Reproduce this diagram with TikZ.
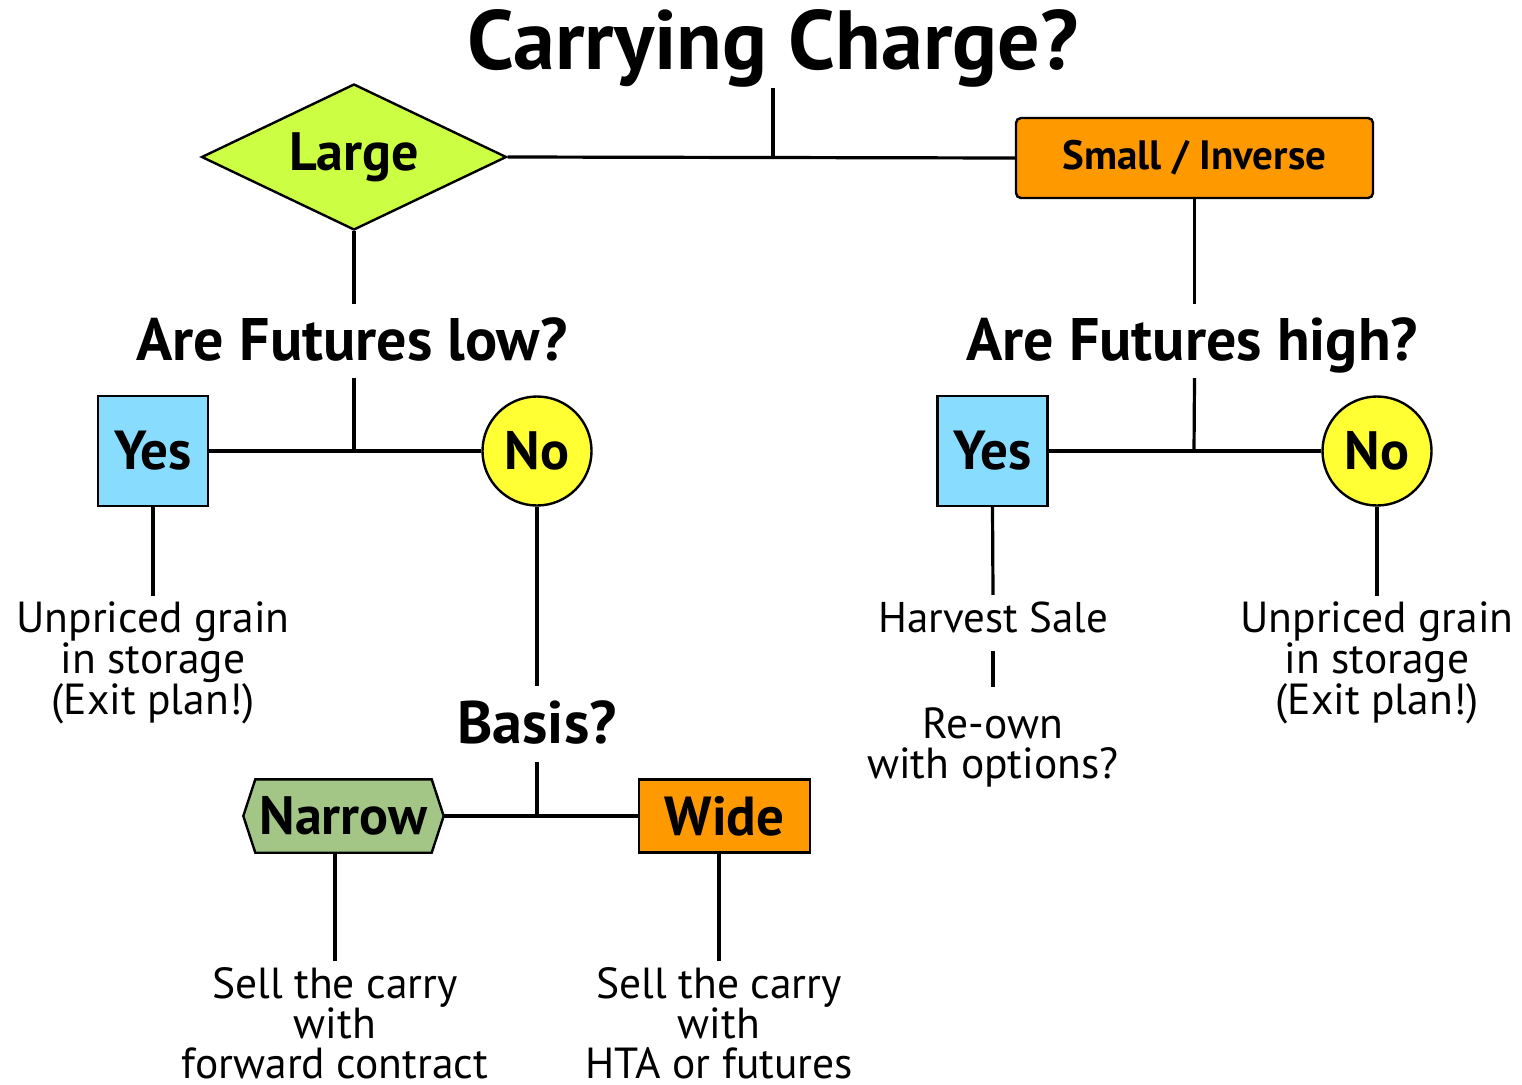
\documentclass[tikz,border=0pt]{standalone}
\usepackage{fontspec}
\setmainfont{PT Sans}
\usetikzlibrary{shapes.geometric,backgrounds}
\definecolor{largecol}{HTML}{CCFF44}
\definecolor{orangecol}{HTML}{FF9900}
\definecolor{yescol}{HTML}{88DDFF}
\definecolor{nocol}{HTML}{FFFF33}
\definecolor{narrowcol}{HTML}{A3C585}
\tikzset{
  conn/.style={line width=3.2pt, black},
  shapeline/.style={draw=black, line width=2.4pt},
  qtext/.style={font=\bfseries\fontsize{60}{64}\selectfont, inner sep=0pt, anchor=base},
  body/.style={font=\fontsize{43.5}{40}\selectfont, align=center, anchor=north, inner xsep=2pt, inner ysep=0pt},
  yesbox/.style={shapeline, rectangle, fill=yescol, minimum size=110pt, inner sep=0pt, font=\bfseries\fontsize{55}{55}\selectfont},
  nocirc/.style={shapeline, circle, fill=nocol, minimum size=109pt, inner sep=0pt, font=\bfseries\fontsize{54}{54}\selectfont},
}
\begin{document}
\begin{tikzpicture}[x=1pt,y=-1pt]
\useasboundingbox (0,0) rectangle (1522,1084);
% title
\node[font=\bfseries\fontsize{84}{88}\selectfont, inner sep=0pt, anchor=base, text height=62pt, text depth=19pt] (title) at (773,69) {Carrying Charge?};
% first level
\node[diamond, aspect=2.09, shapeline, fill=largecol, minimum width=305pt, minimum height=146pt, inner sep=0pt, font=\bfseries\fontsize{54}{54}\selectfont] (large) at (354,157) {Large};
\node[shapeline, rectangle, rounded corners=5pt, fill=orangecol, minimum width=357pt, minimum height=80pt, inner sep=0pt, font=\bfseries\fontsize{41}{44}\selectfont] (small) at (1194.5,158) {Small / Inverse};
\coordinate (jtop) at (773,157);
\draw[conn] (title.south) -- (jtop);
\draw[conn] (large.east) -- (small.west);
% questions
\node[qtext, text height=56pt, text depth=18pt] (afl) at (352,360) {Are Futures low?};
\node[qtext, text height=56pt, text depth=18pt] (afh) at (1192,360) {Are Futures high?};
\draw[conn] (large.south) -- (large.south |- afl.north);
\draw[conn] (small.south) -- (small.south |- afh.north);
% left yes/no
\node[yesbox] (yesL) at (153,451) {Yes};
\node[nocirc] (noL) at (537,451) {No};
\coordinate (j1) at (354,451);
\draw[conn] (large.south |- afl.south) -- (j1);
\draw[conn] (yesL.east) -- (noL.west);
% right yes/no
\node[yesbox] (yesR) at (992.5,451) {Yes};
\node[nocirc] (noR) at (1377,451) {No};
\coordinate (j3) at (1194,451);
\draw[conn] (small.south |- afh.south) -- (j3);
\draw[conn] (yesR.east) -- (noR.west);
% left outcomes
\node[body] (unpL) at (153,601) {Unpriced grain\\in storage\\(Exit plan!)};
\draw[conn] (yesL.south) -- ([yshift=5pt]unpL.north);
\node[qtext, text height=57pt, text depth=19pt] (basis) at (537,743) {Basis?};
\draw[conn] (noL.south) -- (basis.north);
\coordinate (j2) at (537,816);
\draw[conn] (basis.south) -- (j2);
\node[inner sep=0pt, minimum width=200pt, minimum height=73pt, font=\bfseries\fontsize{54}{56}\selectfont] (narrow) at (343.5,816) {Narrow};
\begin{scope}[on background layer]
\draw[shapeline, fill=narrowcol, line join=miter] (narrow.west) -- ([xshift=12pt]narrow.north west) -- ([xshift=-12pt]narrow.north east) -- (narrow.east) -- ([xshift=-12pt]narrow.south east) -- ([xshift=12pt]narrow.south west) -- cycle;
\end{scope}
\node[shapeline, rectangle, fill=orangecol, minimum width=171pt, minimum height=73pt, inner sep=0pt, font=\bfseries\fontsize{55}{56}\selectfont] (wide) at (724.5,816) {Wide};
\draw[conn] (narrow.east) -- (wide.west);
\node[body, font=\fontsize{43.5}{39.5}\selectfont] (sellL) at (335,967) {Sell the carry\\with\\forward contract};
\node[body, font=\fontsize{43.5}{39.5}\selectfont] (sellR) at (719,967) {Sell the carry\\with\\HTA or futures};
\draw[conn] (sellL.north |- narrow.south) -- ([yshift=6pt]sellL.north);
\draw[conn] (sellR.north |- wide.south) -- ([yshift=6pt]sellR.north);
% right outcomes
\node[font=\fontsize{43}{40}\selectfont, inner sep=0pt, anchor=base, text height=37pt, text depth=19pt] (harv) at (993,632) {Harvest Sale};
\draw[conn] (yesR.south) -- (harv.north);
\node[body] (reown) at (993,707) {Re-own\\with options?};
\draw[conn] (harv.south) -- ([yshift=20pt]reown.north);
\node[body] (unpR) at (1377,601) {Unpriced grain\\in storage\\(Exit plan!)};
\draw[conn] (noR.south) -- ([yshift=5pt]unpR.north);
\end{tikzpicture}
\end{document}
